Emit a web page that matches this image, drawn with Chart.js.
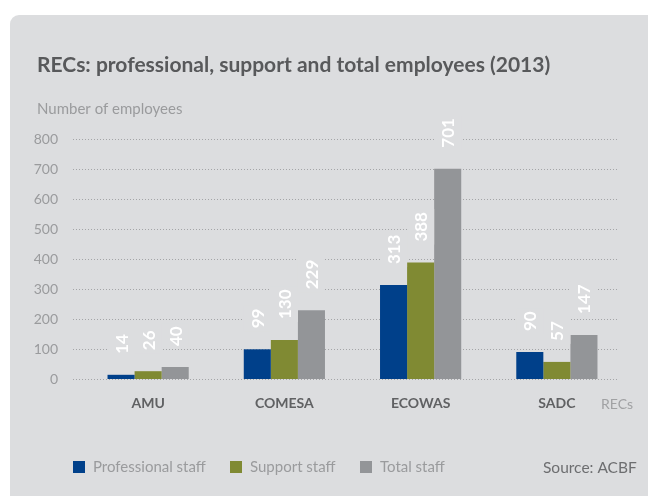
<!DOCTYPE html>
<html><head><meta charset="utf-8">
<script src="https://cdn.jsdelivr.net/npm/chart.js@4/dist/chart.umd.min.js"></script>
<style>html,body{margin:0;padding:0;background:#fff;}canvas{display:block}</style>
</head><body>
<canvas id="c" width="648" height="496"></canvas>
<script>
const categories = ['AMU', 'COMESA', 'ECOWAS', 'SADC'];
const professionalStaff = [14, 99, 313, 90];
const supportStaff = [26, 130, 388, 57];
const totalStaff = [40, 229, 701, 147];
const seriesNames = ['Professional staff', 'Support staff', 'Total staff'];
const yTicks = [0, 100, 200, 300, 400, 500, 600, 700, 800];
const titleText = 'RECs: professional, support and total employees (2013)';
const yAxisTitle = 'Number of employees';
const xAxisTitle = 'RECs';
const sourceText = 'Source: ACBF';

const colors = ['#00408a', '#808a33', '#939598'];
const PANEL = '#dcdddf';
const FONT = 'Lato';

const panelPlugin = {
  id: 'panel',
  beforeDraw(chart) {
    const ctx = chart.ctx;
    ctx.save();
    ctx.fillStyle = '#ffffff';
    ctx.fillRect(0, 0, chart.width, chart.height);
    ctx.fillStyle = PANEL;
    ctx.beginPath();
    ctx.roundRect(10, 15, 700, 600, 9);
    ctx.fill();
    ctx.restore();
  }
};

const gridPlugin = {
  id: 'dotgrid',
  beforeDatasetsDraw(chart) {
    const ctx = chart.ctx, ys = chart.scales.y;
    ctx.save();
    ctx.strokeStyle = '#a4a5a7';
    ctx.lineWidth = 1;
    ctx.setLineDash([1, 2]);
    yTicks.forEach(v => {
      const y = Math.round(ys.getPixelForValue(v)) + 0.5;
      ctx.beginPath();
      ctx.moveTo(73, y);
      ctx.lineTo(618, y);
      ctx.stroke();
    });
    ctx.restore();
  }
};

const labelPlugin = {
  id: 'vlabels',
  afterDatasetsDraw(chart) {
    const ctx = chart.ctx;
    ctx.save();
    ctx.font = '700 17px ' + FONT;
    chart.data.datasets.forEach((ds, i) => {
      const meta = chart.getDatasetMeta(i);
      meta.data.forEach((el, j) => {
        const txt = String(ds.data[j]);
        const w = ctx.measureText(txt).width;
        const base = el.y - 21;
        ctx.fillStyle = PANEL;
        ctx.fillRect(el.x - el.width / 2, base - w - 3, el.width, w + 6);
        ctx.save();
        ctx.translate(el.x, base);
        ctx.rotate(-Math.PI / 2);
        ctx.fillStyle = '#ffffff';
        ctx.textAlign = 'left';
        ctx.textBaseline = 'middle';
        ctx.fillText(txt, 0, 1);
        ctx.restore();
      });
    });
    ctx.restore();
  }
};

const textPlugin = {
  id: 'texts',
  afterDraw(chart) {
    const ctx = chart.ctx;
    ctx.save();
    ctx.textBaseline = 'middle';
    ctx.textAlign = 'left';
    ctx.fillStyle = '#58595b';
    ctx.font = '700 21px ' + FONT;
    ctx.fillText(titleText, 37, 65);
    ctx.fillStyle = '#9a9b9d';
    ctx.font = '400 15px ' + FONT;
    ctx.fillText(yAxisTitle, 37, 109);
    ctx.fillStyle = '#a0a1a3';
    ctx.font = '400 14px ' + FONT;
    ctx.fillText(xAxisTitle, 601, 404);
    // legend
    const lx = [73, 230, 360];
    ctx.font = '400 15px ' + FONT;
    seriesNames.forEach((n, i) => {
      ctx.fillStyle = colors[i];
      ctx.fillRect(lx[i], 461, 12, 12);
      ctx.fillStyle = '#9a9b9d';
      ctx.fillText(n, lx[i] + 20, 467);
    });
    ctx.fillStyle = '#6d6e70';
    ctx.font = '400 15.5px ' + FONT;
    ctx.fillText(sourceText, 543, 468);
    ctx.restore();
  }
};

new Chart(document.getElementById('c'), {
  type: 'bar',
  data: {
    labels: categories,
    datasets: [
      { label: seriesNames[0], data: professionalStaff, backgroundColor: colors[0] },
      { label: seriesNames[1], data: supportStaff, backgroundColor: colors[1] },
      { label: seriesNames[2], data: totalStaff, backgroundColor: colors[2] }
    ]
  },
  options: {
    responsive: false,
    animation: false,
    devicePixelRatio: 1,
    layout: { padding: { left: 0, right: 23, top: 139, bottom: 87 } },
    plugins: { legend: { display: false }, title: { display: false }, tooltip: { enabled: false } },
    datasets: { bar: { categoryPercentage: 0.596, barPercentage: 1.0, borderWidth: 0 } },
    scales: {
      x: {
        grid: { display: false, drawTicks: false },
        border: { display: false },
        ticks: { color: '#606163', font: { family: FONT, size: 14, weight: '700' }, padding: 16 },
        afterFit(s) { s.height = 30; }
      },
      y: {
        min: 0, max: 800,
        afterBuildTicks(s) { s.ticks = yTicks.map(v => ({ value: v })); },
        grid: { display: false, drawTicks: false },
        border: { display: false },
        ticks: { color: '#9a9b9d', font: { family: FONT, size: 14 }, padding: 22 },
        afterFit(s) { s.width = 80; }
      }
    }
  },
  plugins: [panelPlugin, gridPlugin, labelPlugin, textPlugin]
});
</script>
</body></html>
